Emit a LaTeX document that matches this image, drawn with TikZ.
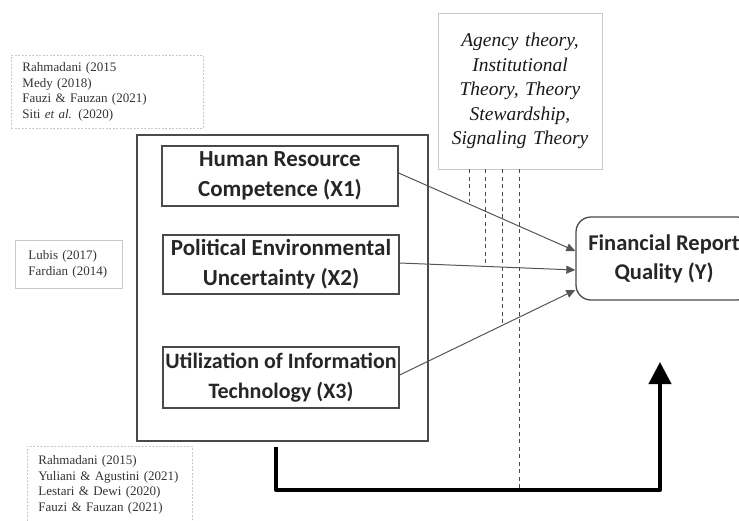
\documentclass[tikz,border=0pt]{standalone}
\usepackage{fontspec}
\setmainfont{Liberation Serif}
\newfontfamily\calibri{Carlito}
\usetikzlibrary{shapes.geometric, arrows.meta}
\definecolor{boxgray}{HTML}{4A4A4A}
\definecolor{linegray}{HTML}{555555}
\definecolor{lightline}{HTML}{C8C8C8}
\tikzstyle{varbox} = [rectangle, draw=boxgray, line width=1.3pt, inner xsep=0pt, minimum width=236pt, align=center, text=black!85, font=\calibri\bfseries\fontsize{23}{30}\selectfont]
\tikzstyle{outcome} = [rectangle, rounded corners=15pt, draw=boxgray, line width=1.3pt, minimum width=176pt, minimum height=83pt, align=center, text=black!85, font=\calibri\bfseries\fontsize{22.5}{29}\selectfont]
\tikzstyle{theorybox} = [rectangle, draw=lightline, line width=0.9pt, minimum width=164pt, minimum height=156pt, text width=150pt, align=center, text=black!90, font=\itshape\fontsize{19.5}{24.5}\selectfont]
\tikzstyle{refbox} = [rectangle, draw=lightline, line width=0.9pt, dash pattern=on 2pt off 1.5pt, anchor=north west, inner xsep=11pt, align=left, text=black!80, font=\fontsize{13}{15.5}\selectfont]
\tikzstyle{arrow} = [draw=linegray, line width=1pt, -{Triangle[length=9pt,width=8pt]}]
\tikzstyle{tielink} = [draw=boxgray, line width=1pt, dash pattern=on 4pt off 3.5pt]
\tikzstyle{feedback} = [line width=4pt, line join=round, -{Triangle[length=22pt,width=22pt]}]

\begin{document}
\begin{tikzpicture}[x=1pt, y=-1pt, node distance=88.5pt]
\path[use as bounding box, clip] (0,0) rectangle (739,520);

\node (outer) [rectangle, draw=boxgray, line width=1.3pt, minimum width=291pt, minimum height=306pt] at (282.5,288) {};
\node (hrc) [varbox, minimum height=60pt] at (280,176) {Human Resource\\Competence (X1)};
\node (peu) [varbox, minimum height=59pt, xshift=1pt, below of=hrc] {Political Environmental\\Uncertainty (X2)};
\node (uit) [varbox, minimum height=61pt, yshift=-24.5pt, below of=peu, font=\calibri\bfseries\fontsize{22}{30}\selectfont] {Utilization of Information\\Technology (X3)};
\node (frq) [outcome] at (664,258.5) {Financial Report\\Quality (Y)};
\node (theory) [theorybox] at (520,91) {Agency theory,\\Institutional\\Theory, Theory\\Stewardship,\\Signaling Theory};

\node (refa) [refbox, minimum width=192pt, minimum height=73pt, text width=170pt] at (11,55) {Rahmadani (2015\\Medy (2018)\\Fauzi \& Fauzan (2021)\\Siti \textit{et al.} (2020)};
\node (refb) [refbox, dash pattern=, inner xsep=13pt, minimum width=107pt, minimum height=48pt, text width=81pt, font=\fontsize{13}{16.5}\selectfont] at (15,240) {Lubis (2017)\\Fardian (2014)};
\node (refc) [refbox, minimum width=165pt, minimum height=77pt, text width=143pt] at (27,446) {Rahmadani (2015)\\Yuliani \& Agustini (2021)\\Lestari \& Dewi (2020)\\Fauzi \& Fauzan (2021)};

\draw [arrow] ([yshift=3pt]hrc.east) -- ([yshift=7.5pt]frq.west);
\draw [arrow] ([yshift=1.5pt]peu.east) -- ([yshift=-11.5pt]frq.west);
\draw [arrow] ([yshift=2.5pt]uit.east) -- ([yshift=-31.5pt]frq.west);

% moderating links from the theory box
\draw [tielink] ([xshift=-51pt]theory.south) -- ++(0,33);
\draw [tielink] ([xshift=-35pt]theory.south) -- ++(0,96);
\draw [tielink] ([xshift=-18pt]theory.south) -- ++(0,157);
\draw [tielink] ([xshift=-1pt]theory.south) -- ++(0,321);

\coordinate (fbstart) at (276,447);
\coordinate (fbcorner) at (660,490);
\coordinate (fbend) at (660,362);
\draw [feedback] (fbstart) |- (fbcorner) -- (fbend);

\end{tikzpicture}
\end{document}
